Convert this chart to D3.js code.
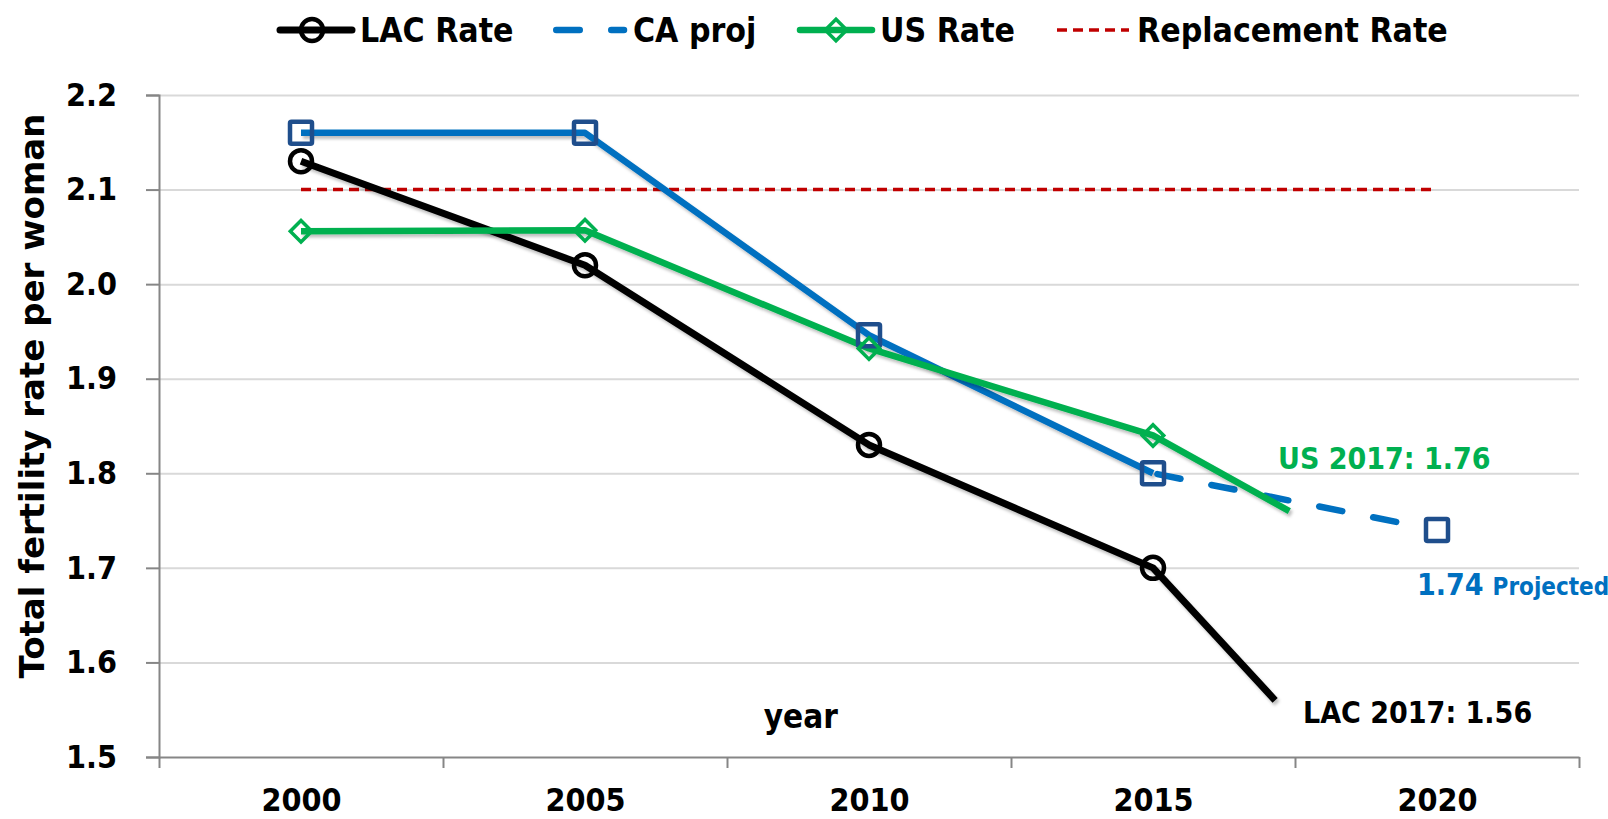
<!DOCTYPE html>
<html>
<head>
<meta charset="utf-8">
<script src="https://cdn.jsdelivr.net/npm/d3@7"></script>
<style>
  body { margin: 0; background: #fff; }
  svg text { font-family: "DejaVu Sans Condensed", "DejaVu Sans", sans-serif; font-stretch: condensed; font-weight: bold; }
</style>
</head>
<body>
<script>
// fertility rates
const years = [2000, 2005, 2010, 2015, 2020]
const lacYears = [2000, 2005, 2010, 2015, 2017.15]
const lacRate = [2.13, 2.02, 1.83, 1.70, 1.56]
const usYears = [2000, 2005, 2010, 2015, 2017.4]
const usRate = [2.056, 2.057, 1.932, 1.84, 1.76]
const caYears = [2000, 2005, 2010, 2015, 2020]
const caRate = [2.16, 2.16, 1.946, 1.80, 1.74]
const replacementRate = 2.1
const yTicks = [1.5, 1.6, 1.7, 1.8, 1.9, 2.0, 2.1, 2.2]

const width = 1608, height = 819
const plot = {left: 159, right: 1579, top: 95, bottom: 757}

const x = d3.scaleLinear().domain([1997.5, 2022.5]).range([plot.left, plot.right])
const y = d3.scaleLinear().domain([1.5, 2.2]).range([plot.bottom, plot.top])

const svg = d3.select('body').append('svg')
  .attr('width', width)
  .attr('height', height)

const defs = svg.append('defs')
defs.append('filter').attr('id', 'shadow').attr('x', '-10%').attr('y', '-10%').attr('width', '120%').attr('height', '130%')
  .append('feDropShadow')
  .attr('dx', 2).attr('dy', 3).attr('stdDeviation', 1.5)
  .attr('flood-color', '#000').attr('flood-opacity', 0.25)

// gridlines
svg.append('g')
  .attr('transform', `translate(${plot.left},0)`)
  .call(d3.axisLeft(y).tickValues(yTicks.slice(1)).tickSize(-(plot.right - plot.left)).tickFormat(''))
  .call(g => g.select('.domain').remove())
  .call(g => g.selectAll('line').attr('stroke', '#d9d9d9').attr('stroke-width', 2))

// y axis
svg.append('g')
  .attr('transform', `translate(${plot.left},0)`)
  .call(d3.axisLeft(y).tickValues(yTicks).tickSize(13).tickPadding(29).tickFormat(d3.format('.1f')))
  .call(g => g.select('.domain').attr('stroke', '#868686').attr('stroke-width', 2))
  .call(g => g.selectAll('line').attr('stroke', '#868686').attr('stroke-width', 2))
  .call(g => g.selectAll('text').attr('font-size', 32).attr('fill', '#000'))

// x axis: tick marks between categories, labels centred
const bounds = d3.range(1997.5, 2023, 5)
svg.append('g')
  .attr('transform', `translate(0,${plot.bottom})`)
  .call(d3.axisBottom(x).tickValues(bounds).tickSize(11).tickSizeOuter(0).tickFormat(''))
  .call(g => g.select('.domain').attr('stroke', '#868686').attr('stroke-width', 2))
  .call(g => g.selectAll('line').attr('stroke', '#868686').attr('stroke-width', 2))

svg.append('g')
  .attr('transform', `translate(0,${plot.bottom})`)
  .call(d3.axisBottom(x).tickValues(years).tickSize(0).tickPadding(31).tickFormat(d3.format('d')))
  .call(g => g.select('.domain').remove())
  .call(g => g.selectAll('text').attr('font-size', 32).attr('fill', '#000'))

// axis titles
svg.append('text')
  .attr('transform', `translate(44,396) rotate(-90)`)
  .attr('text-anchor', 'middle')
  .attr('font-size', 34)
  .style('font-family', '"DejaVu Sans", sans-serif')
  .style('font-stretch', 'normal')
  .text('Total fertility rate per woman')

svg.append('text')
  .attr('x', x(2008.8))
  .attr('y', 728)
  .attr('text-anchor', 'middle')
  .attr('font-size', 33)
  .text('year')

const line = d3.line().x(d => x(d[0])).y(d => y(d[1]))
const pts = (xs, vs) => xs.map((v, i) => [v, vs[i]])

// replacement rate
svg.append('path')
  .datum([[2000, replacementRate], [2020, replacementRate]])
  .attr('d', line)
  .attr('fill', 'none')
  .attr('stroke', '#c00000')
  .attr('stroke-width', 3.5)
  .attr('stroke-dasharray', '10,6')

const caPts = pts(caYears, caRate)
const lacPts = pts(lacYears, lacRate)
const usPts = pts(usYears, usRate)

// CA: solid through 2015, dashed projection after
svg.append('path')
  .datum(caPts.slice(0, 4))
  .attr('d', line)
  .attr('fill', 'none').attr('stroke', '#0070c0').attr('stroke-width', 6.5)
  .attr('stroke-linejoin', 'round')
  .attr('filter', 'url(#shadow)')

const projPath = svg.append('path')
  .datum(caPts.slice(3))
  .attr('d', line)
  .attr('fill', 'none').attr('stroke', '#0070c0').attr('stroke-width', 6.5)
  .attr('stroke-linecap', 'round')
// dashes stop before the 2020 marker
const projLen = projPath.node().getTotalLength()
const dashes = []
for (let s = 4.5; s + 23.5 < projLen - 16; s += 55) dashes.push(23.5, 31.5)
dashes[dashes.length - 1] = 1000
projPath.attr('stroke-dasharray', dashes.join(',')).attr('stroke-dashoffset', -4.5)

svg.append('path')
  .datum(lacPts)
  .attr('d', line)
  .attr('fill', 'none').attr('stroke', '#000').attr('stroke-width', 7)
  .attr('stroke-linejoin', 'round')
  .attr('filter', 'url(#shadow)')

svg.append('path')
  .datum(usPts)
  .attr('d', line)
  .attr('fill', 'none').attr('stroke', '#00b050').attr('stroke-width', 6.5)
  .attr('stroke-linejoin', 'round')
  .attr('filter', 'url(#shadow)')

// markers (only on the five-year points)
svg.append('g').selectAll('rect')
  .data(caPts)
  .join('rect')
  .attr('x', d => x(d[0]) - 11).attr('y', d => y(d[1]) - 11)
  .attr('width', 22).attr('height', 22).attr('rx', 1.5)
  .attr('fill', 'none').attr('stroke', '#1f4e8c').attr('stroke-width', 4.5)

svg.append('g').selectAll('circle')
  .data(lacPts.slice(0, 4))
  .join('circle')
  .attr('cx', d => x(d[0])).attr('cy', d => y(d[1]))
  .attr('r', 11)
  .attr('fill', 'none').attr('stroke', '#000').attr('stroke-width', 4.5)

const diamond = d3.symbol().type(d3.symbolSquare).size(230)
svg.append('g').selectAll('path')
  .data(usPts.slice(0, 4))
  .join('path')
  .attr('transform', d => `translate(${x(d[0])},${y(d[1])}) rotate(45)`)
  .attr('d', diamond)
  .attr('fill', 'none').attr('stroke', '#00b050').attr('stroke-width', 3.5)

// annotations
svg.append('text')
  .attr('x', 1278).attr('y', 469)
  .attr('font-size', 30).attr('fill', '#00b050')
  .text('US 2017: 1.76')

svg.append('text')
  .attr('x', 1303).attr('y', 723)
  .attr('font-size', 30).attr('fill', '#000')
  .text('LAC 2017: 1.56')

const proj = svg.append('text')
  .attr('x', 1417).attr('y', 595)
  .attr('fill', '#0070c0')
proj.append('tspan').attr('font-size', 30).text('1.74')
proj.append('tspan').attr('font-size', 24).attr('dx', 9).text('Projected')

// legend
const legend = svg.append('g').attr('transform', 'translate(0,30)')
const items = [
  {label: 'LAC Rate', x: 280, color: '#000', w: 7, dash: null, marker: 'circle'},
  {label: 'CA proj', x: 553, color: '#0070c0', w: 6.5, dash: '23.5,31.5', marker: null},
  {label: 'US Rate', x: 800, color: '#00b050', w: 6.5, dash: null, marker: 'diamond'},
  {label: 'Replacement Rate', x: 1057, color: '#c00000', w: 3.5, dash: '10,6', marker: null}
]
const lineLen = 72
items.forEach(it => {
  const g = legend.append('g').attr('transform', `translate(${it.x},0)`)
  const rounded = !it.dash || it.w > 5
  g.append('line')
    .attr('x1', it.dash && it.w > 5 ? 3.25 : 0).attr('x2', it.dash && it.w > 5 ? 71 : lineLen)
    .attr('stroke', it.color).attr('stroke-width', it.w)
    .attr('stroke-linecap', rounded ? 'round' : 'butt')
    .attr('stroke-dasharray', it.dash)
  if (it.marker === 'circle') {
    g.append('circle').attr('cx', 32).attr('r', 11)
      .attr('fill', 'none').attr('stroke', it.color).attr('stroke-width', 4.5)
  }
  if (it.marker === 'diamond') {
    g.append('path').attr('transform', `translate(${lineLen / 2},0) rotate(45)`)
      .attr('d', diamond)
      .attr('fill', 'none').attr('stroke', it.color).attr('stroke-width', 3.5)
  }
  g.append('text')
    .attr('x', lineLen + 8).attr('y', 12)
    .attr('font-size', 33.5)
    .text(it.label)
})
</script>
</body>
</html>
